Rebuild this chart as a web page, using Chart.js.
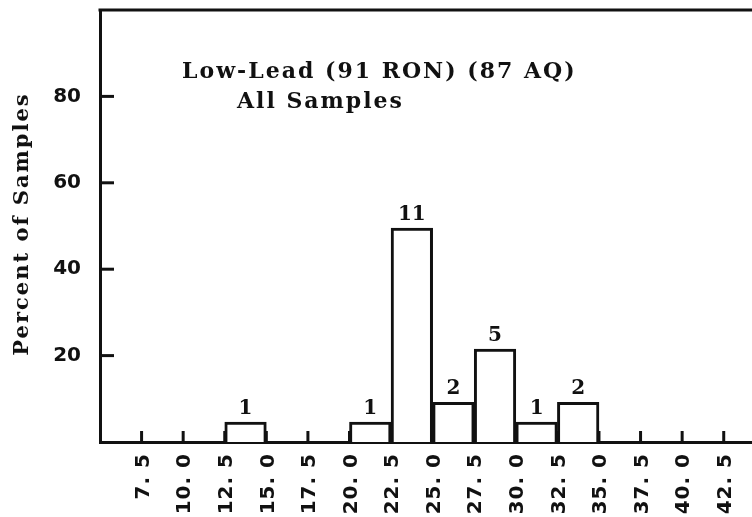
<!DOCTYPE html>
<html lang="en">
<head>
  <meta charset="UTF-8" />
  <title>Low-Lead (91 RON) (87 AQ) - All Samples</title>
  <script src="https://cdn.jsdelivr.net/npm/chart.js"></script>
  <style>
    html, body { margin: 0; padding: 0; background: #fff; }
  </style>
</head>
<body>
  <canvas id="histo" width="752" height="517"></canvas>

  <script>
    // bins (lower edge) and their values
    const binStarts = [12.5, 20.0, 22.5, 25.0, 27.5, 30.0, 32.5];
    const binWidth = 2.5;
    const percentValues = [4.6, 4.6, 49.5, 9.2, 21.5, 4.6, 9.2];
    const sampleCounts = [1, 1, 11, 2, 5, 1, 2];

    // axis ticks
    const xTickValues = [7.5, 10.0, 12.5, 15.0, 17.5, 20.0, 22.5, 25.0, 27.5, 30.0, 32.5, 35.0, 37.5, 40.0, 42.5];
    const xTickLabels = ['7. 5', '10. 0', '12. 5', '15. 0', '17. 5', '20. 0', '22. 5', '25. 0', '27. 5', '30. 0', '32. 5', '35. 0', '37. 5', '40. 0', '42. 5'];
    const yTickValues = [20, 40, 60, 80];
    const yTickLabels = ['20', '40', '60', '80'];

    const titleLines = ['Low-Lead (91 RON) (87 AQ)', 'All Samples'];
    const yAxisTitle = 'Percent of Samples';

    const ink = '#111';
    const serif = '"DejaVu Serif", "Liberation Serif", serif';
    const sans = '"DejaVu Sans", "Liberation Sans", sans-serif';

    // extra drawing: frame top, inner tick marks, labels, counts, caption
    const extras = {
      id: 'extras',
      afterDatasetsDraw(chart) {
        const { ctx, chartArea, scales } = chart;
        const x = scales.x, y = scales.y;
        ctx.save();
        ctx.strokeStyle = ink;
        ctx.fillStyle = ink;
        ctx.lineWidth = 3;
        ctx.lineCap = 'butt';

        // top line of frame
        ctx.beginPath();
        ctx.moveTo(chartArea.left - 1.5, chartArea.top);
        ctx.lineTo(chartArea.right, chartArea.top);
        ctx.stroke();

        // x tick marks (pointing up)
        xTickValues.forEach(v => {
          const px = x.getPixelForValue(v);
          ctx.beginPath();
          ctx.moveTo(px, chartArea.bottom);
          ctx.lineTo(px, chartArea.bottom - 11);
          ctx.stroke();
        });

        // y tick marks (pointing right)
        yTickValues.forEach(v => {
          const py = y.getPixelForValue(v);
          ctx.beginPath();
          ctx.moveTo(chartArea.left, py);
          ctx.lineTo(chartArea.left + 14, py);
          ctx.stroke();
        });

        // x tick labels, rotated, reading upwards
        ctx.font = 'bold 20px ' + sans;
        ctx.letterSpacing = '1px';
        ctx.textAlign = 'right';
        ctx.textBaseline = 'middle';
        xTickValues.forEach((v, i) => {
          const px = x.getPixelForValue(v);
          ctx.save();
          ctx.translate(px + 2, chartArea.bottom + 11);
          ctx.rotate(-Math.PI / 2);
          ctx.fillText(xTickLabels[i], 0, 0);
          ctx.restore();
        });

        // y axis title
        ctx.font = 'bold 21px ' + serif;
        ctx.letterSpacing = '2px';
        ctx.textAlign = 'center';
        ctx.save();
        ctx.translate(23, (chartArea.top + chartArea.bottom) / 2 - 2);
        ctx.rotate(-Math.PI / 2);
        ctx.fillText(yAxisTitle, 0, 0);
        ctx.restore();

        // counts above bars
        ctx.font = 'bold 20px ' + serif;
        ctx.letterSpacing = '0px';
        ctx.textAlign = 'center';
        ctx.textBaseline = 'bottom';
        binStarts.forEach((s, i) => {
          const px = x.getPixelForValue(s + binWidth / 2);
          const py = y.getPixelForValue(percentValues[i]);
          ctx.fillText(String(sampleCounts[i]), px, py - 3);
        });

        // caption inside the plot
        ctx.font = 'bold 22px ' + serif;
        ctx.letterSpacing = '2px';
        ctx.textAlign = 'left';
        ctx.textBaseline = 'alphabetic';
        ctx.fillText(titleLines[0], chartArea.left + 82, chartArea.top + 68);
        ctx.fillText(titleLines[1], chartArea.left + 137, chartArea.top + 98);

        ctx.restore();
      }
    };

    const noPad = s => {
      s.paddingTop = 0;
      s.paddingBottom = 0;
      s.paddingLeft = 0;
      s.paddingRight = 0;
    };

    new Chart(document.getElementById('histo'), {
      type: 'bar',
      data: {
        datasets: [{
          data: binStarts.map((s, i) => ({ x: s + binWidth / 2, y: percentValues[i] })),
          backgroundColor: '#fff',
          borderColor: ink,
          borderWidth: 3,
          borderSkipped: 'bottom',
          barPercentage: 1,
          categoryPercentage: 1,
          grouped: false
        }]
      },
      options: {
        responsive: false,
        animation: false,
        layout: { autoPadding: false, padding: { top: 10, left: 0, right: 0, bottom: 0 } },
        plugins: {
          legend: { display: false },
          title: { display: false },
          tooltip: { enabled: false }
        },
        scales: {
          x: {
            type: 'linear',
            min: 5,
            max: 44.2,
            offset: false,
            afterBuildTicks: s => { s.ticks = xTickValues.map(v => ({ value: v })); },
            afterFit: s => { s.height = 75; noPad(s); },
            grid: { display: false, drawTicks: false, offset: false },
            border: { display: true, color: ink, width: 3 },
            ticks: { display: false }
          },
          y: {
            min: 0,
            max: 100,
            afterBuildTicks: s => { s.ticks = yTickValues.map(v => ({ value: v })); },
            afterFit: s => { s.width = 100; noPad(s); },
            grid: { display: false, drawTicks: false },
            border: { display: true, color: ink, width: 3 },
            ticks: {
              padding: 19,
              color: ink,
              font: { family: sans, weight: 'bold', size: 20 },
              callback: (v, i) => yTickLabels[i]
            }
          }
        }
      },
      plugins: [extras]
    });
  </script>
</body>
</html>
